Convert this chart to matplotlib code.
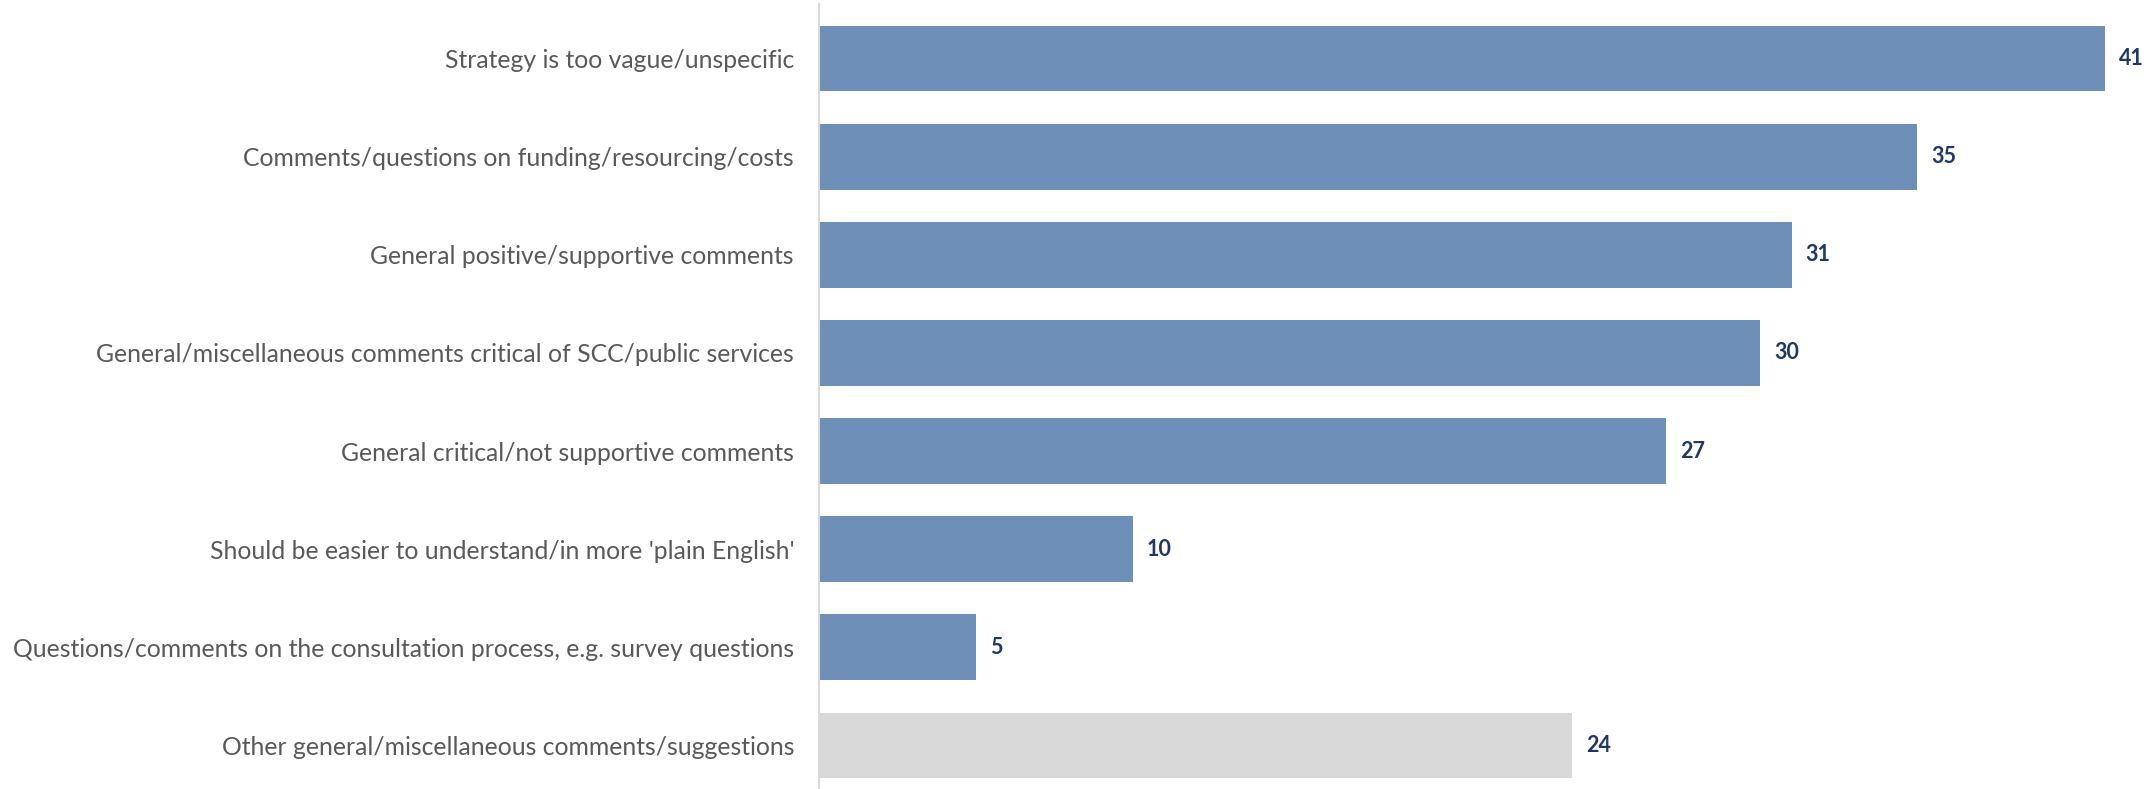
import matplotlib.pyplot as plt

# Comment themes and number of mentions
temas = [
    "Strategy is too vague/unspecific",
    "Comments/questions on funding/resourcing/costs",
    "General positive/supportive comments",
    "General/miscellaneous comments critical of SCC/public services",
    "General critical/not supportive comments",
    "Should be easier to understand/in more 'plain English'",
    "Questions/comments on the consultation process, e.g. survey questions",
    "Other general/miscellaneous comments/suggestions",
]
menciones = [41, 35, 31, 30, 27, 10, 5, 24]
es_otro = [False, False, False, False, False, False, False, True]

AZUL = "#6D8FB8"
GRIS = "#D9D9D9"
TEXTO = "#595959"
NAVY = "#1F3864"

plt.rcParams["font.family"] = ["Lato", "DejaVu Sans"]

fig = plt.figure(figsize=(21.47, 7.89), dpi=100)
ax = fig.add_axes([819 / 2147, 0.0, 1 - 819 / 2147, 1 - 4 / 789])

y = list(range(len(temas)))
colores = [GRIS if o else AZUL for o in es_otro]
barras = ax.barh(y, menciones, height=0.67, color=colores)

for b, v in zip(barras, menciones):
    ax.annotate(str(v), (b.get_width(), b.get_y() + b.get_height() / 2),
                xytext=(10, 0), textcoords="offset points",
                ha="left", va="center", fontsize=15.5, fontweight="bold",
                color=NAVY, annotation_clip=False)

ax.set_ylim(len(temas) - 0.556, -0.556)
ax.set_xlim(0, 42.33)
ax.set_yticks(y)
ax.set_yticklabels(temas, fontsize=17.8, color=TEXTO)
ax.tick_params(axis="y", length=0, pad=18)
ax.set_xticks([])

for lado in ["top", "right", "bottom"]:
    ax.spines[lado].set_visible(False)
ax.spines["left"].set_color(GRIS)
ax.spines["left"].set_linewidth(1.5)

fig.savefig("out.png", dpi=100)
